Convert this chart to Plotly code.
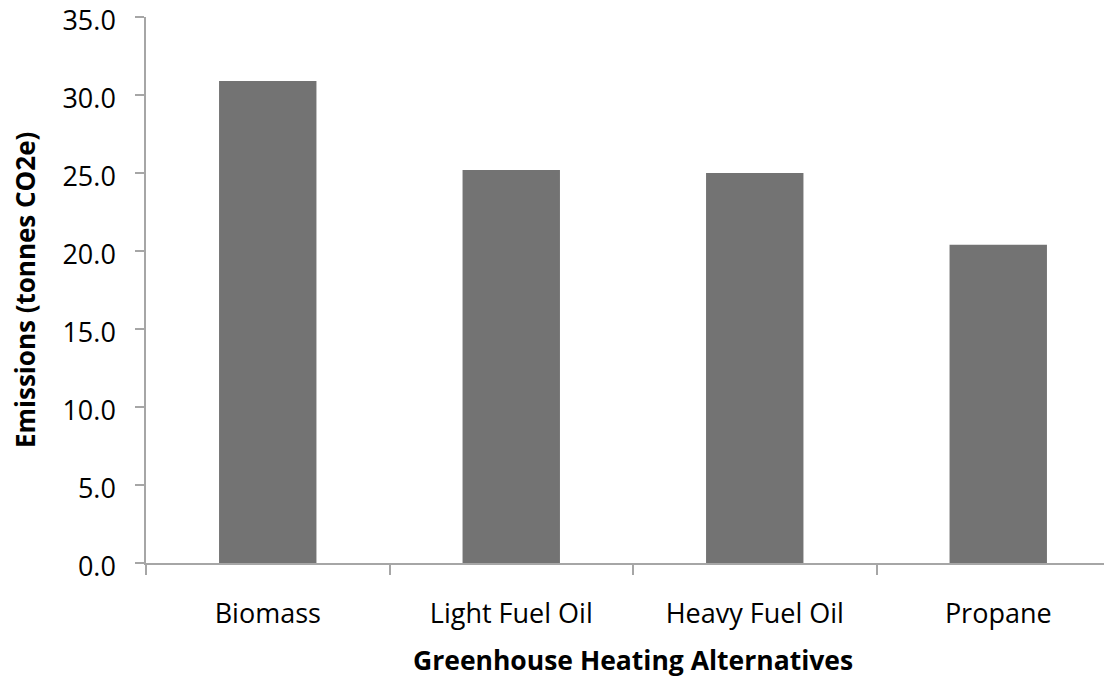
import plotly.graph_objects as go

categories = ["Biomass", "Light Fuel Oil", "Heavy Fuel Oil", "Propane"]
emissions = [30.9, 25.2, 25.0, 20.4]
y_ticks = [0, 5, 10, 15, 20, 25, 30, 35]
x_title = "Greenhouse Heating Alternatives"
y_title = "Emissions (tonnes CO2e)"

FONT = "Open Sans"
AXIS_COLOR = "#a6a6a6"

fig = go.Figure(
    go.Bar(
        x=categories,
        y=emissions,
        marker=dict(color="#737373", line=dict(width=0)),
        width=0.4,
    )
)

fig.update_layout(
    width=1112,
    height=692,
    margin=dict(l=138, r=0, t=9, b=137, autoexpand=False),
    paper_bgcolor="white",
    plot_bgcolor="white",
    showlegend=False,
    font=dict(family=FONT, size=27, color="black"),
    bargap=0.6,
)

fig.update_xaxes(
    type="category",
    range=[-0.5, 3.5],
    automargin=False,
    showline=True,
    linecolor=AXIS_COLOR,
    linewidth=1.5,
    ticks="outside",
    tickson="boundaries",
    ticklen=10,
    tickcolor=AXIS_COLOR,
    tickwidth=1.5,
    showgrid=False,
    ticklabelstandoff=26,
    tickfont=dict(family=FONT, size=27, color="black"),
)

fig.update_yaxes(
    range=[0, 35],
    automargin=False,
    tickvals=y_ticks,
    tickformat=".1f",
    showline=True,
    linecolor=AXIS_COLOR,
    linewidth=1.5,
    ticks="outside",
    ticklen=9,
    tickcolor=AXIS_COLOR,
    tickwidth=1.5,
    showgrid=False,
    zeroline=False,
    ticklabelstandoff=14,
    ticklabelshift=4,
    ticklabeloverflow="allow",
    tickfont=dict(family=FONT, size=27, color="black"),
)

fig.add_annotation(
    text="<b>" + x_title + "</b>",
    xref="x", x=1.5, yref="paper", y=0,
    xanchor="center", yanchor="middle", yshift=-97,
    showarrow=False,
    font=dict(family=FONT, size=26.5, color="black"),
)
fig.add_annotation(
    text="<b>" + y_title + "</b>",
    xref="paper", x=-0.1242, yref="paper", y=0.5,
    xanchor="center", yanchor="middle", textangle=-90,
    showarrow=False,
    font=dict(family=FONT, size=26, color="black"),
)

fig.write_html("out.html")
